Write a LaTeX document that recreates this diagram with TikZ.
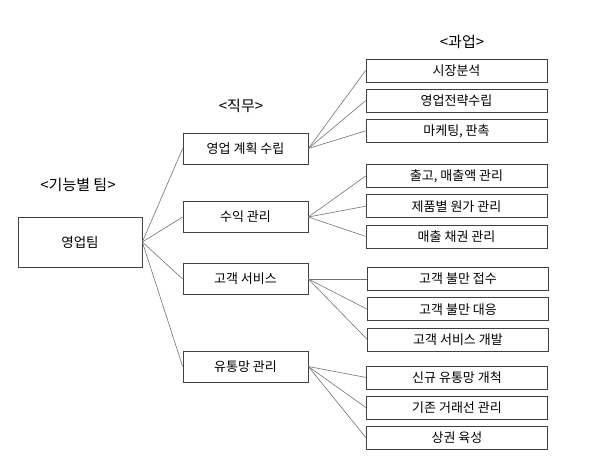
\documentclass[tikz,border=0pt]{standalone}
\usepackage{fontspec}
\setmainfont{Noto Sans CJK KR}
\usepackage{xcolor}
\usetikzlibrary{positioning}

\begin{document}
\begin{tikzpicture}[
    x=1pt, y=-1pt,
    team/.style={rectangle, draw=black!75, line width=0.7pt, minimum width=124pt, minimum height=50pt, font=\fontsize{13.5}{15}\selectfont},
    duty/.style={rectangle, draw=black!75, line width=0.7pt, minimum width=125pt, minimum height=31pt, font=\fontsize{13}{14}\selectfont},
    task/.style={rectangle, draw=black!75, line width=0.7pt, minimum width=181pt, minimum height=23pt, font=\fontsize{13}{14}\selectfont},
    title/.style={font=\fontsize{15}{17}\selectfont},
    link/.style={draw=black!55, line width=0.6pt},
    node distance=6.5pt
]
    \useasboundingbox (0,0) rectangle (595,466);

    % column titles
    \node[title] (tteam) at (78,185) {<기능별 팀>};
    \node[title] (tduty) at (241,106) {<직무>};
    \node[title] (ttask) at (462,42) {<과업>};

    % team
    \node[team] (sales) at (80,242) {영업팀};

    % duties
    \node[duty] (plan) at (245.5,148.5) {영업 계획 수립};
    \node[duty] (profit) at (245.5,217) {수익 관리};
    \node[duty] (service) at (245.5,279) {고객 서비스};
    \node[duty] (channel) at (245.5,366.5) {유통망 관리};

    % tasks
    \node[task] (market) at (456.5,70.5) {시장분석};
    \node[task, below=of market] (strategy) {영업전략수립};
    \node[task, below=of strategy] (promo) {마케팅, 판촉};

    \node[task] (shipping) at (456.5,176) {출고, 매출액 관리};
    \node[task, below=of shipping] (cost) {제품별 원가 관리};
    \node[task, below=of cost] (credit) {매출 채권 관리};

    \node[task] (receive) at (458,279) {고객 불만 접수};
    \node[task, below=of receive] (respond) {고객 불만 대응};
    \node[task, below=of respond] (develop) {고객 서비스 개발};

    \node[task] (newch) at (457,377.5) {신규 유통망 개척};
    \node[task, below=of newch] (partner) {기존 거래선 관리};
    \node[task, below=of partner] (area) {상권 육성};

    % links
    \foreach \d in {plan, profit, service, channel}
        \draw[link] (sales.east) -- (\d.west);
    \foreach \t in {market, strategy, promo}
        \draw[link] (plan.east) -- (\t.west);
    \foreach \t in {shipping, cost, credit}
        \draw[link] (profit.east) -- (\t.west);
    \foreach \t in {receive, respond, develop}
        \draw[link] (service.east) -- (\t.west);
    \foreach \t in {newch, partner, area}
        \draw[link] (channel.east) -- (\t.west);
\end{tikzpicture}
\end{document}
